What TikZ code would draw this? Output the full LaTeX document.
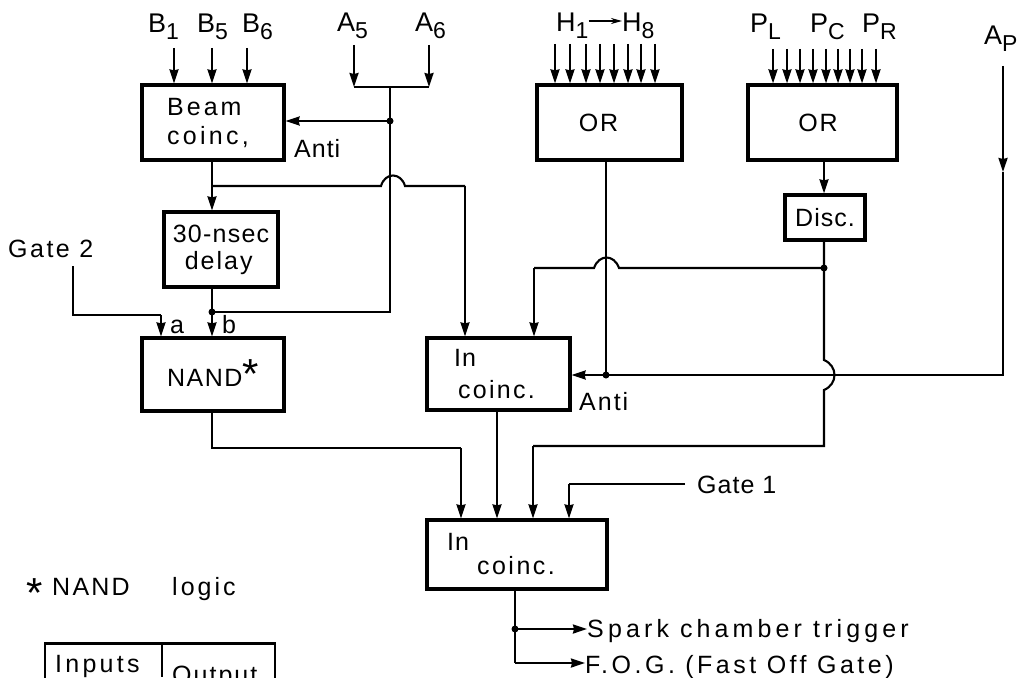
\documentclass[tikz,border=0pt]{standalone}
\usepackage{fontspec}
\setmainfont[LetterSpace=4]{Liberation Sans}
\usetikzlibrary{arrows.meta}
\newcommand{\ls}[2]{{\addfontfeature{LetterSpace=#1}#2}}
\newcommand{\subt}[1]{\raisebox{-7pt}{\fontsize{23}{23}\selectfont #1}}
\newcommand{\bigast}{\raisebox{-4pt}{\fontsize{42}{42}\selectfont *}}
\tikzset{
 box/.style={draw=black,line width=3.2pt,fill=white,inner sep=0pt,align=left,font=\fontsize{25}{29}\selectfont},
 wire/.style={draw=black,line width=2.1pt},
 arr/.style={wire,-{Stealth[length=14pt,width=9pt,inset=1pt]}},
 lbl/.style={inner sep=0pt,anchor=base west,font=\fontsize{25}{29}\selectfont},
 sym/.style={inner sep=0pt,anchor=base west,font=\fontsize{27}{29}\selectfont},
 dot/.style={circle,fill=black,inner sep=0pt,minimum size=7pt},
}
\begin{document}
\begin{tikzpicture}[x=1pt,y=-1pt]
\useasboundingbox (0,0) rectangle (1022,677);
\clip (0,0) rectangle (1022,677);
% boxes
\node[box,minimum width=142pt,minimum height=75pt] (beam) at (213,122.5) {\ls{12}{Beam}\\[0pt]\ls{13}{coinc,}\hspace*{10pt}};
\node[box,minimum width=114pt,minimum height=75pt] (delay) at (221,249.5) {\ls{5}{30-nsec}\\[-2pt]\hspace*{12pt}\ls{8}{delay}};
\node[box,minimum width=142pt,minimum height=73pt] (nand) at (213,374.5) {\raisebox{-2pt}{\ls{6}{NAND}\raisebox{2pt}{\bigast}}};
\node[box,minimum width=145pt,minimum height=75pt] (or1) at (609.5,122.5) {\raisebox{-2pt}{\ls{8}{OR}}\hspace*{22pt}};
\node[box,minimum width=149pt,minimum height=75pt] (or2) at (822.5,122.5) {\raisebox{-2pt}{\ls{8}{OR}}\hspace*{9pt}};
\node[box,minimum width=80pt,minimum height=45pt] (disc) at (825,217.5) {\ls{4}{Disc.}};
\node[box,minimum width=143pt,minimum height=72pt] (coin1) at (498.5,374) {In\\[3pt]\hspace*{4pt}\ls{9}{coinc.}\hspace*{8pt}};
\node[box,minimum width=180pt,minimum height=69pt] (coin2) at (517,554.5) {In\\[-5pt]\hspace*{30pt}\ls{10}{coinc.}\hspace*{32pt}};
% input labels
\node[sym] (tb1) at (148,33) {B\subt{1}};
\node[sym] (tb5) at (197,33) {B\subt{5}};
\node[sym] (tb6) at (242,33) {B\subt{6}};
\node[sym] (ta5) at (337,32) {A\subt{5}};
\node[sym] (ta6) at (415,32) {A\subt{6}};
\node[sym] (th1) at (556,32) {H\subt{1}};
\node[sym] (th8) at (622,32) {H\subt{8}};
\node[sym] (tpl) at (750,33) {P\subt{L}};
\node[sym] (tpc) at (810,33) {P\subt{C}};
\node[sym] (tpr) at (862,33) {P\subt{R}};
\node[sym] (tap) at (984,45) {A\subt{P}};
\draw[wire,-{Stealth[length=11pt,width=6pt]},line width=1.6pt] (th1.east |- 0,21) -- (th8.west |- 0,21);
% other labels
\node[lbl] (anti1) at (294,157) {Anti};
\node[lbl] (gate2) at (8,257) {\ls{10}{Gate 2}};
\node[lbl] (la) at (170,333) {a};
\node[lbl] (lb) at (222,333) {b};
\node[lbl] (anti2) at (579,410) {\ls{8}{Anti}};
\node[lbl] (gate1) at (697,493) {Gate 1};
\node[lbl] (spark) at (587,637) {\ls{16.5}{Spark chamber trigger}};
\node[lbl] (fog) at (585,673) {\ls{14}{F.O.G. (Fast Off Gate)}};
\node[lbl] (nandast) at (26,603) {\bigast};
\node[lbl] (nandl) at (52,595) {\ls{9}{NAND}};
\node[lbl] (logic) at (172,595) {\ls{12}{logic}};
% table
\node[draw=black,line width=2.8pt,inner sep=0pt,minimum width=230pt,minimum height=80pt,anchor=north west] (tbl) at (43.5,642) {};
\coordinate (tsep) at (162,642);
\draw[wire] (tsep) -- (162,677);
\node[lbl] (inp) at (55,672) {\ls{13}{Inputs}};
\node[lbl] (outp) at (172,683) {\ls{8}{Output}};
% beam inputs
\foreach \n/\x in {b1/174,b5/212,b6/247}{
  \coordinate (\n) at (\x,48);
  \draw[arr] (\n) -- (\n |- beam.north);
}
% A5, A6 merge
\coordinate (a5) at (354,45);
\coordinate (a6) at (429,45);
\coordinate (am) at (390,87);
\coordinate (ad) at (390,121);
\coordinate (ab) at (390,312);
\coordinate (bd) at (212,312);
\draw[arr] (a5) -- (a5 |- am);
\draw[arr] (a6) -- (a6 |- am);
\draw[wire] (a5 |- am) -- (a6 |- am);
\draw[wire] (am) -- (ab) -- (bd);
\node[dot] (adot) at (ad) {};
\draw[arr] (adot.center) -- (ad -| beam.east);
% beam out
\coordinate (bs) at (212,186);
\draw[arr] (bs |- beam.south) -- (bs |- delay.north);
\coordinate (h1a) at (381,186);
\coordinate (h1b) at (405,186);
\coordinate (c1in) at (465,186);
\draw[wire] (bs) -- (h1a) .. controls (385,172) and (401,172) .. (h1b) -- (c1in);
\draw[arr] (c1in) -- (c1in |- coin1.north);
% delay out
\node[dot] (bdot) at (bd) {};
\draw[arr] (bd |- delay.south) -- (bd |- nand.north);
% gate 2
\coordinate (g2a) at (73,266);
\coordinate (g2b) at (73,315);
\coordinate (g2c) at (161,315);
\draw[wire] (g2a) -- (g2b) -- (g2c);
\draw[arr] (g2c) -- (g2c |- nand.north);
% H inputs
\foreach \x [count=\i] in {555,570,586,600,614,628,641,655}{
  \coordinate (h\i) at (\x,44);
  \draw[arr] (h\i) -- (h\i |- or1.north);
}
% P inputs
\foreach \x [count=\i] in {773,787,800,813,826,838,850,862,876}{
  \coordinate (p\i) at (\x,49);
  \draw[arr] (p\i) -- (p\i |- or2.north);
}
% OR 2 to disc
\coordinate (dx) at (824,200);
\draw[arr] (dx |- or2.south) -- (dx |- disc.north);
% disc out
\coordinate (dj) at (824,268);
\node[dot] (ddot) at (dj) {};
\coordinate (hy1) at (824,360);
\coordinate (hy2) at (824,390);
\coordinate (dlow) at (824,446);
\coordinate (c2in3) at (533,446);
\draw[wire] (dj |- disc.south) -- (hy1) .. controls (838,366) and (838,384) .. (hy2) -- (dlow) -- (c2in3);
\draw[arr] (c2in3) -- (c2in3 |- coin2.north);
\coordinate (hh1) at (619,268);
\coordinate (hh2) at (594,268);
\coordinate (c1in2) at (534,268);
\draw[wire] (dj) -- (hh1) .. controls (614,254) and (599,254) .. (hh2) -- (c1in2);
\draw[arr] (c1in2) -- (c1in2 |- coin1.north);
% OR1 out and Ap
\coordinate (oj) at (606,375);
\node[dot] (odot) at (oj) {};
\draw[wire] (oj |- or1.south) -- (oj);
\coordinate (ap) at (1003,66);
\coordinate (apm) at (1003,172);
\coordinate (apb) at (1003,375);
\draw[arr] (ap) -- (apm);
\draw[wire] (apm) -- (apb) -- (oj);
\draw[arr] (oj) -- (coin1.east |- oj);
% NAND out
\coordinate (nl) at (212,448);
\coordinate (c2in1) at (461,448);
\draw[wire] (nl |- nand.south) -- (nl) -- (c2in1);
\draw[arr] (c2in1) -- (c2in1 |- coin2.north);
% coinc1 out
\coordinate (c2in2) at (497,480);
\draw[arr] (c2in2 |- coin1.south) -- (c2in2 |- coin2.north);
% gate 1
\coordinate (g1a) at (685,484);
\coordinate (g1b) at (569,484);
\draw[wire] (g1a) -- (g1b);
\draw[arr] (g1b) -- (g1b |- coin2.north);
% outputs
\coordinate (oj2) at (515,629);
\coordinate (oe) at (515,663);
\node[dot] (o2dot) at (oj2) {};
\draw[wire] (oe |- coin2.south) -- (oe);
\draw[arr] (oj2) -- (spark.west |- oj2);
\draw[arr] (oe) -- (fog.west |- oe);
\end{tikzpicture}
\end{document}
